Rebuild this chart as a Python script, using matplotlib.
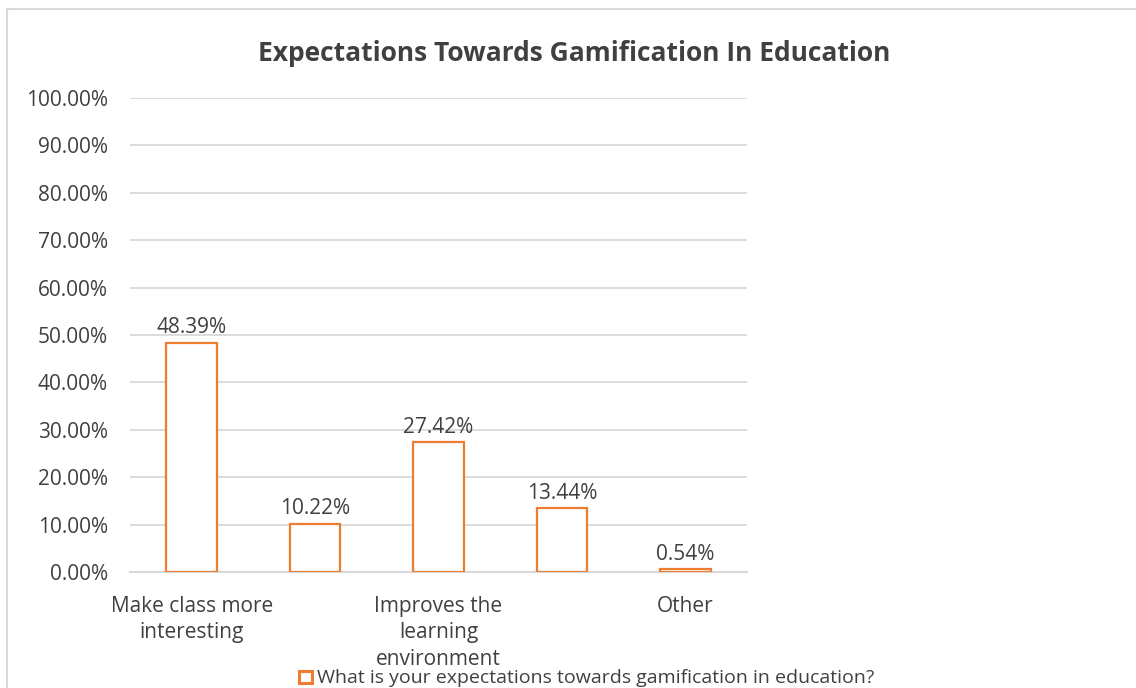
import matplotlib.pyplot as plt
from matplotlib.patches import Rectangle
from matplotlib.ticker import PercentFormatter

plt.rcParams["font.family"] = ["Open Sans", "DejaVu Sans"]

# Survey answers (only every other category name is shown on the axis)
tick_labels = ["Make class more\ninteresting", "", "Improves the\nlearning\nenvironment", "", "Other"]
shares = [48.39, 10.22, 27.42, 13.44, 0.54]
series_name = "What is your expectations towards gamification in education?"

orange = "#ED7D31"
grid_grey = "#D9D9D9"
text_grey = "#404040"

fig = plt.figure(figsize=(11.36, 6.88), dpi=100)
ax = fig.add_axes([0.1144, 0.1686, 0.5432, 0.689])

x = range(len(shares))
ax.bar(x, shares, width=0.41, facecolor="white", edgecolor=orange, linewidth=1.6, zorder=3)

for xi, v in zip(x, shares):
    ax.annotate(f"{v:.2f}%", (xi, v), xytext=(0, 3), textcoords="offset points",
                ha="center", va="bottom", fontsize=15, color=text_grey)

ax.set_xlim(-0.5, len(shares) - 0.5)
ax.set_ylim(0, 100)
ax.set_yticks(range(0, 101, 10))
ax.yaxis.set_major_formatter(PercentFormatter(decimals=2))
ax.set_xticks(list(x))
ax.set_xticklabels(tick_labels, fontsize=15, color=text_grey, linespacing=1.36)
ax.tick_params(axis="both", length=0, labelsize=15, labelcolor=text_grey)
ax.tick_params(axis="y", pad=16)
ax.tick_params(axis="x", pad=17)
ax.grid(axis="y", color=grid_grey, linewidth=1.3, zorder=0)
for side in ["top", "right", "left"]:
    ax.spines[side].set_visible(False)
ax.spines["bottom"].set_color(grid_grey)
ax.spines["bottom"].set_linewidth(1.5)

fig.text(0.5057, 0.922, "Expectations Towards Gamification In Education",
         ha="center", va="center", fontsize=19, fontweight="bold", color=text_grey)

# legend sits at the bottom edge of the chart frame
fig.patches.append(Rectangle((0.2632, 0.0075), 0.0115, 0.0175, transform=fig.transFigure,
                             facecolor="white", edgecolor=orange, linewidth=2.2))
fig.text(0.279, 0.001, series_name, ha="left", va="bottom", fontsize=14, color=text_grey)

# chart frame
fig.patches.append(Rectangle((0.0062, -0.1), 1.2, 1.0869, transform=fig.transFigure,
                             facecolor="none", edgecolor=grid_grey, linewidth=1.5))

fig.savefig("out.png", dpi=100, facecolor="white")
